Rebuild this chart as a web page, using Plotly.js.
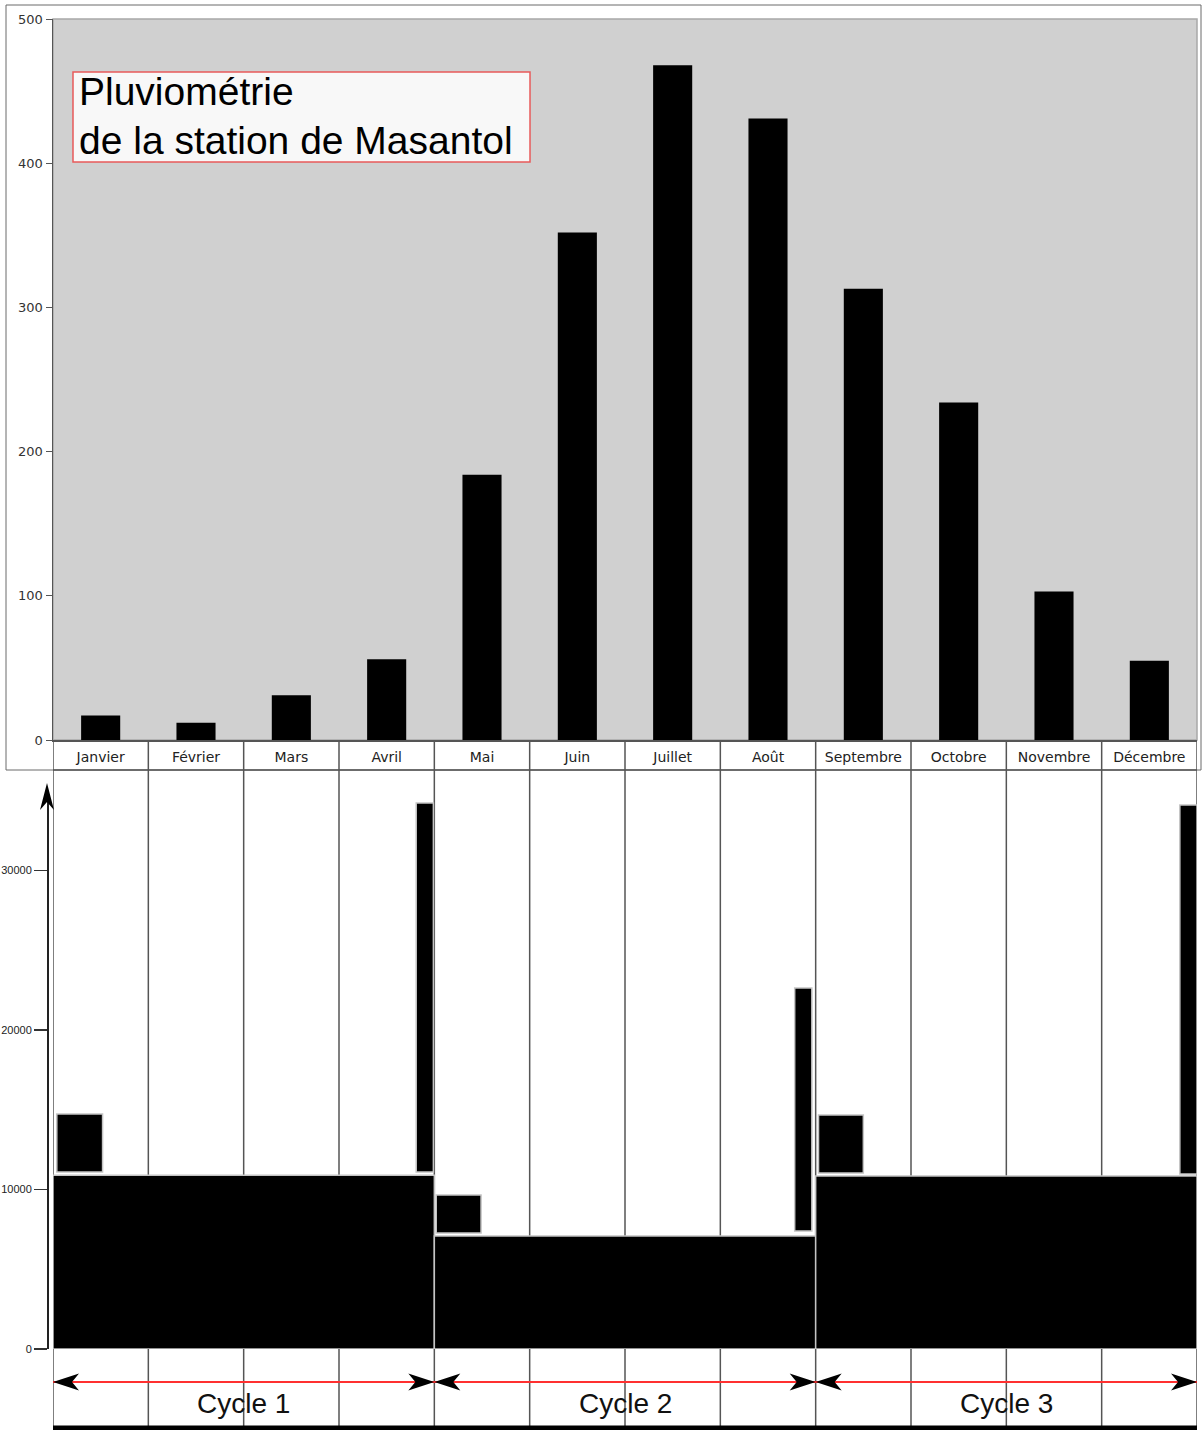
<!DOCTYPE html>
<html><head><meta charset="utf-8">
<script src="https://cdn.plot.ly/plotly-3.0.1.min.js"></script>
<style>html,body{margin:0;padding:0;background:#fff}#chart{width:1202px;height:1430px}</style>
</head><body><div id="chart"></div>
<script>
// ---- data ----
const months = ['Janvier','Février','Mars','Avril','Mai','Juin','Juillet','Août','Septembre','Octobre','Novembre','Décembre'];
const rainfall = [17, 12, 31, 56, 184, 352, 468, 431, 313, 234, 103, 55];
const rainTicks = [0, 100, 200, 300, 400, 500];

const cycleNames = ['Cycle 1', 'Cycle 2', 'Cycle 3'];
const cycleStart = [0, 4, 8];
const cycleEnd = [4, 8, 12];
const cycleLevel = [10900, 7080, 10850];
const earlyFrom = [0.04, 4.02, 8.03];
const earlyTo = [0.52, 4.49, 8.50];
const earlyBase = [11100, 7270, 11030];
const earlyTop = [14730, 9660, 14670];
const lateFrom = [3.81, 7.78, 11.82];
const lateTo = [3.99, 7.96, 12.0];
const lateBase = [11100, 7400, 10970];
const lateTop = [34230, 22630, 34110];
const stockTicks = [0, 10000, 20000, 30000];
const stockTickText = ['0', '10000', '20000', '30000'];

// ---- helpers (page pixels -> paper fractions) ----
const W = 1202, H = 1430;
const fx = p => p / W;
const fy = p => 1 - p / H;
const ARIAL = 'Liberation Sans, Arial, sans-serif';
const VERD = 'DejaVu Sans, Verdana, sans-serif';

const barLine = {color: '#c4c4c4', width: 1.5};
const mid = (a, b) => a.map((v, i) => (v + b[i]) / 2);
const span = (a, b) => a.map((v, i) => b[i] - v);

const traces = [
  {type: 'bar', x: months.map((m, i) => i + 0.5), y: rainfall, width: 0.41,
   marker: {color: '#000'}, xaxis: 'x', yaxis: 'y', hoverinfo: 'skip'},
  {type: 'bar', x: mid(cycleStart, cycleEnd), width: span(cycleStart, cycleEnd),
   base: cycleLevel.map(() => 0), y: cycleLevel,
   marker: {color: '#000', line: barLine}, xaxis: 'x2', yaxis: 'y2', hoverinfo: 'skip'},
  {type: 'bar', x: mid(earlyFrom, earlyTo), width: span(earlyFrom, earlyTo),
   base: earlyBase, y: span(earlyBase, earlyTop),
   marker: {color: '#000', line: barLine}, xaxis: 'x2', yaxis: 'y2', hoverinfo: 'skip'},
  {type: 'bar', x: mid(lateFrom, lateTo), width: span(lateFrom, lateTo),
   base: lateBase, y: span(lateBase, lateTop),
   marker: {color: '#000', line: barLine}, xaxis: 'x2', yaxis: 'y2', hoverinfo: 'skip'}
];

const shapes = [];
// outer frame of the rainfall chart
shapes.push({type: 'rect', xref: 'paper', yref: 'paper', x0: fx(6), x1: fx(1201), y0: fy(770), y1: fy(5),
  line: {color: '#6a6a6a', width: 1}, fillcolor: 'rgba(0,0,0,0)', layer: 'below'});
// grey plot background
shapes.push({type: 'rect', xref: 'x domain', yref: 'y domain', x0: 0, x1: 1, y0: 0, y1: 1,
  fillcolor: '#d0d0d0', line: {color: '#a8a8a8', width: 1.5}, layer: 'below'});
// month boundaries
for (let k = 0; k <= months.length; k++) {
  shapes.push({type: 'line', xref: 'x', yref: 'paper', x0: k, x1: k, y0: fy(1428), y1: fy(740),
    line: {color: '#555', width: 1.5}, layer: 'below'});
}
// bottom of month label row
shapes.push({type: 'line', xref: 'x', yref: 'paper', x0: 0, x1: months.length, y0: fy(770), y1: fy(770),
  line: {color: '#555', width: 1.5}, layer: 'below'});
// red cycle line
shapes.push({type: 'line', xref: 'x', yref: 'paper', x0: cycleStart[0], x1: cycleEnd[cycleEnd.length - 1],
  y0: fy(1382), y1: fy(1382), line: {color: '#ff3030', width: 2}, layer: 'below'});
// thick base line
shapes.push({type: 'line', xref: 'x', yref: 'paper', x0: 0, x1: months.length + 0.02, y0: fy(1428), y1: fy(1428),
  line: {color: '#000', width: 5}, layer: 'above'});
// cycle arrowheads
cycleStart.forEach((s, i) => {
  shapes.push({type: 'path', xref: 'x', yref: 'paper', xsizemode: 'pixel', ysizemode: 'pixel',
    xanchor: s, yanchor: fy(1382), path: 'M0,0L26,8.5L19,0L26,-8.5Z',
    fillcolor: '#000', line: {width: 0}, layer: 'above'});
  shapes.push({type: 'path', xref: 'x', yref: 'paper', xsizemode: 'pixel', ysizemode: 'pixel',
    xanchor: cycleEnd[i], yanchor: fy(1382), path: 'M0,0L-26,8.5L-19,0L-26,-8.5Z',
    fillcolor: '#000', line: {width: 0}, layer: 'above'});
});
// arrowhead on the lower y axis
shapes.push({type: 'path', xref: 'paper', yref: 'paper', xsizemode: 'pixel', ysizemode: 'pixel',
  xanchor: fx(47), yanchor: fy(783), path: 'M0,0L-7,-27L0,-19L7,-27Z',
  fillcolor: '#000', line: {width: 0}, layer: 'above'});
// title box
shapes.push({type: 'rect', xref: 'paper', yref: 'paper', x0: fx(73), x1: fx(530), y0: fy(162), y1: fy(72),
  fillcolor: '#f8f8f8', line: {color: '#e85a5a', width: 1.5}, layer: 'above'});

const annotations = [
  {xref: 'paper', yref: 'paper', x: fx(77), y: fy(92), xanchor: 'left', yanchor: 'middle', showarrow: false,
   text: 'Pluviométrie', font: {family: ARIAL, size: 39, color: '#000'}},
  {xref: 'paper', yref: 'paper', x: fx(77), y: fy(140.4), xanchor: 'left', yanchor: 'middle', showarrow: false,
   text: 'de la station de Masantol', font: {family: ARIAL, size: 39, color: '#000'}}
];
cycleNames.forEach((n, i) => {
  annotations.push({xref: 'x', yref: 'paper', x: (cycleStart[i] + cycleEnd[i]) / 2, y: fy(1403),
    xanchor: 'center', yanchor: 'middle', showarrow: false, text: n,
    font: {family: ARIAL, size: 28, color: '#111'}});
});

const layout = {
  width: W, height: H,
  margin: {l: 0, r: 0, t: 0, b: 0},
  paper_bgcolor: '#fff', plot_bgcolor: 'rgba(0,0,0,0)',
  showlegend: false, barmode: 'overlay',
  xaxis: {domain: [fx(53), fx(1197)], range: [0, 12], anchor: 'y',
    tickvals: months.map((m, i) => i + 0.5), ticktext: months, ticks: '', ticklabelstandoff: 4,
    showline: true, linecolor: '#555', linewidth: 1.5, showgrid: false, zeroline: false,
    tickfont: {family: VERD, size: 14, color: '#222'}, automargin: false},
  yaxis: {domain: [fy(740), fy(19)], range: [0, 500], anchor: 'x',
    tickvals: rainTicks, ticks: 'outside', ticklen: 6, tickcolor: '#555', tickwidth: 1,
    showline: true, linecolor: '#555', linewidth: 1.5, showgrid: false, zeroline: false,
    tickfont: {family: VERD, size: 13, color: '#333'}, automargin: false},
  xaxis2: {domain: [fx(53), fx(1197)], range: [0, 12], anchor: 'y2', visible: false},
  yaxis2: {domain: [fy(1349), fy(800)], range: [0, (1349 - 800) / 159.5 * 10000],
    anchor: 'free', position: fx(47),
    tickvals: stockTicks, ticktext: stockTickText, ticks: 'outside', ticklen: 13, tickwidth: 1.5, tickcolor: '#333',
    showline: true, linecolor: '#222', linewidth: 1.5, showgrid: false, zeroline: false,
    tickfont: {family: ARIAL, size: 11, color: '#222'}, automargin: false},
  shapes: shapes,
  annotations: annotations
};

Plotly.newPlot('chart', traces, layout, {displayModeBar: false, staticPlot: true});
</script>
</body></html>
